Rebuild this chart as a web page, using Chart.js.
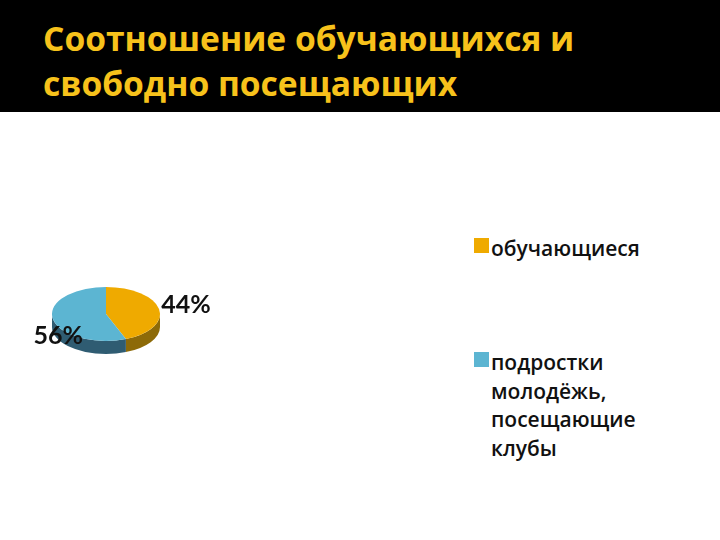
<!DOCTYPE html>
<html>
<head>
<meta charset="utf-8">
<script src="https://cdn.jsdelivr.net/npm/chart.js@4/dist/chart.umd.min.js"></script>
<style>
  html, body { margin: 0; padding: 0; }
  body { width: 720px; height: 540px; background: #fff; position: relative; overflow: hidden; }
  #header { position: absolute; left: 0; top: 0; width: 720px; height: 112px; background: #000; }
  #title { position: absolute; left: 43px; top: 16px; margin: 0; color: #f7c21b;
           font: 700 33.6px/45px "Open Sans", sans-serif; white-space: nowrap; }
  #pieBox { position: absolute; left: 0; top: 200px; width: 260px; height: 228px; }
  .legend-item { position: absolute; left: 474px; font: 600 21px/28.7px "Open Sans", sans-serif; color: #111; }
  .legend-item .swatch { position: absolute; left: 0; width: 15px; height: 15px; }
  .legend-item .text { position: absolute; left: 17px; white-space: nowrap; }
</style>
</head>
<body>
<div id="header"><h1 id="title">Соотношение обучающихся и<br>свободно посещающих</h1></div>
<div id="pieBox"><canvas id="pie"></canvas></div>
<div id="legend"></div>
<script>
const categories = ["обучающиеся", ["подростки", "молодёжь,", "посещающие", "клубы"]];
const shares = [44, 56];
const topColors = ["#efaa00", "#5cb5d2"];
const sideColors = ["#8d6a08", "#2f5c72"];

// legend tops (page px) for each category
const legendTops = [234, 348];

const legend = document.getElementById("legend");
categories.forEach((cat, i) => {
  const lines = Array.isArray(cat) ? cat : [cat];
  const item = document.createElement("div");
  item.className = "legend-item";
  item.style.top = legendTops[i] + "px";
  const sw = document.createElement("div");
  sw.className = "swatch";
  sw.style.background = topColors[i];
  sw.style.top = "4px";
  const txt = document.createElement("div");
  txt.className = "text";
  txt.innerHTML = lines.join("<br>");
  item.appendChild(sw);
  item.appendChild(txt);
  legend.appendChild(item);
});

// flattened pie with a side wall
const pie3d = {
  id: "pie3d",
  beforeDatasetsDraw(chart, args, opts) {
    const ctx = chart.ctx;
    const arcs = chart.getDatasetMeta(0).data;
    const cx = arcs[0].x, cy = arcs[0].y;
    const D = opts.depth / opts.tilt;
    ctx.save();
    ctx.translate(cx, cy);
    ctx.scale(1, opts.tilt);
    ctx.translate(-cx, -cy);
    arcs.forEach((arc, i) => {
      const s = Math.max(arc.startAngle, 0);
      const e = Math.min(arc.endAngle, Math.PI);
      if (e <= s) return;
      ctx.beginPath();
      ctx.arc(cx, cy, arc.outerRadius, s, e);
      ctx.arc(cx, cy + D, arc.outerRadius, e, s, true);
      ctx.closePath();
      ctx.fillStyle = sideColors[i];
      ctx.fill();
    });
  },
  afterDatasetsDraw(chart) {
    chart.ctx.restore();
  },
  afterDraw(chart, args, opts) {
    const ctx = chart.ctx;
    const arcs = chart.getDatasetMeta(0).data;
    ctx.save();
    ctx.font = opts.font;
    ctx.fillStyle = "#111";
    ctx.textAlign = "center";
    ctx.textBaseline = "middle";
    arcs.forEach((arc, i) => {
      const mid = (arc.startAngle + arc.endAngle) / 2;
      const p = opts.labelPos[i];
      const x = arc.x + p.f * arc.outerRadius * Math.cos(mid) + p.dx;
      const y = arc.y + p.f * arc.outerRadius * opts.tilt * Math.sin(mid) + p.dy;
      ctx.fillText(shares[i] + "%", x, y);
    });
    ctx.restore();
  }
};

new Chart(document.getElementById("pie"), {
  type: "pie",
  data: {
    labels: categories,
    datasets: [{
      data: shares,
      backgroundColor: topColors,
      borderWidth: 0,
      hoverOffset: 0
    }]
  },
  options: {
    responsive: true,
    maintainAspectRatio: false,
    animation: false,
    events: [],
    layout: { padding: { left: 52, right: 100, top: 60, bottom: 60 } },
    plugins: {
      legend: { display: false },
      tooltip: { enabled: false },
      pie3d: {
        tilt: 0.5,
        depth: 13,
        font: 'bold 25px "Lato", sans-serif',
        labelPos: [{ f: 1.51, dx: 0, dy: -1 }, { f: 0.9, dx: 0, dy: 17 }]
      }
    }
  },
  plugins: [pie3d]
});
</script>
</body>
</html>
